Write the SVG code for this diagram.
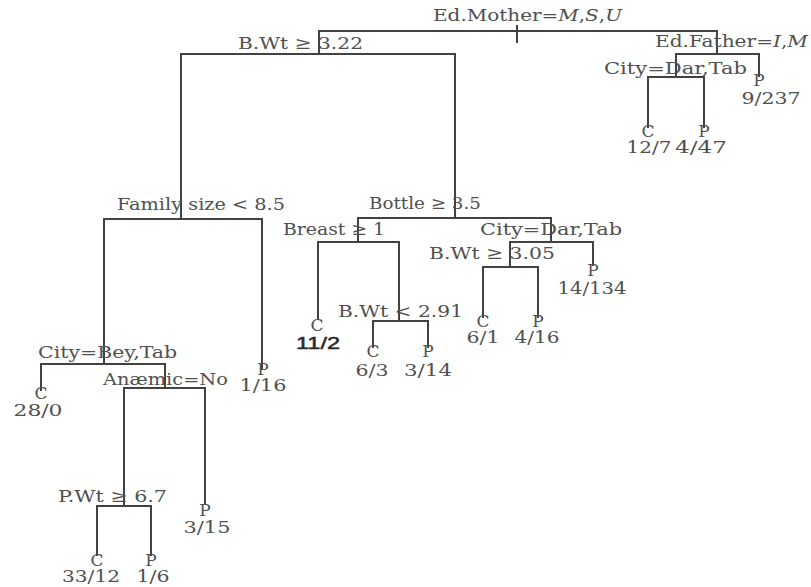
<svg xmlns="http://www.w3.org/2000/svg" width="811" height="587" viewBox="0 0 811 587">
<style>
.e{fill:none;stroke:#424242;stroke-width:2;stroke-linecap:square}
text{font-family:"DejaVu Serif","Liberation Serif",serif;font-size:17px;fill:#505050}
.m{text-anchor:middle}
.s{font-family:"Liberation Sans",Arial,sans-serif;fill:#2a2a2a;stroke:#2a2a2a;stroke-width:0.5}
.i{font-style:italic}
</style>
<rect width="811" height="587" fill="#ffffff"/>
<g id="connectors" class="e">
<path d="M319 31H717M517 26V42"/>
<path d="M319 31V54M181 54H455"/>
<path d="M717 31V54M676 54H759M759 54V76"/>
<path d="M676 54V77M648 77H704M648 77V127M704 77V127"/>
<path d="M181 54V219M104 219H262M262 219V368"/>
<path d="M455 54V218M358 218H551"/>
<path d="M104 219V364M41 364H165M41 364V390"/>
<path d="M358 218V242M318 242H399M318 242V318"/>
<path d="M399 242V321M373 321H428M373 321V347M428 321V347"/>
<path d="M551 218V242M510 242H593M593 242V265"/>
<path d="M510 242V267M483 267H538M483 267V317M538 267V317"/>
<path d="M165 364V388M124 388H205M205 388V503"/>
<path d="M124 388V506M97 506H151M97 506V555M151 506V555"/>
</g>
<g id="n-edmother"><text x="433" y="21" textLength="189" lengthAdjust="spacingAndGlyphs">Ed.Mother=<tspan class="i">M</tspan>,<tspan class="i">S</tspan>,<tspan class="i">U</tspan></text></g>
<g id="n-bwt322"><text x="238" y="49" textLength="125" lengthAdjust="spacingAndGlyphs">B.Wt ≥ 3.22</text></g>
<g id="n-edfather"><text x="655" y="47" textLength="153" lengthAdjust="spacingAndGlyphs">Ed.Father=<tspan class="i">I</tspan>,<tspan class="i">M</tspan></text></g>
<g id="n-city1"><text x="604" y="74" textLength="143" lengthAdjust="spacingAndGlyphs">City=Dar,Tab</text></g>
<g id="l-9-237"><text class="m" x="759" y="86">P</text><text class="m" x="771" y="104" textLength="59" lengthAdjust="spacingAndGlyphs">9/237</text></g>
<g id="l-12-7"><text class="m" x="648" y="137">C</text><text class="m" x="649" y="153" textLength="45" lengthAdjust="spacingAndGlyphs">12/7</text></g>
<g id="l-4-47"><text class="m" x="704" y="137">P</text><text class="m" x="701" y="153" textLength="52" lengthAdjust="spacingAndGlyphs">4/47</text></g>
<g id="n-family"><text x="117" y="210" textLength="168" lengthAdjust="spacingAndGlyphs">Family size &lt; 8.5</text></g>
<g id="n-bottle"><text x="369" y="209" textLength="112" lengthAdjust="spacingAndGlyphs">Bottle ≥ 3.5</text></g>
<g id="n-breast"><text x="283" y="235" textLength="102" lengthAdjust="spacingAndGlyphs">Breast ≥ 1</text></g>
<g id="n-city2"><text x="480" y="235" textLength="142" lengthAdjust="spacingAndGlyphs">City=Dar,Tab</text></g>
<g id="n-bwt305"><text x="429" y="259" textLength="126" lengthAdjust="spacingAndGlyphs">B.Wt ≥ 3.05</text></g>
<g id="l-14-134"><text class="m" x="593" y="276">P</text><text class="m" x="592" y="294" textLength="69" lengthAdjust="spacingAndGlyphs">14/134</text></g>
<g id="l-6-1"><text class="m" x="483" y="327">C</text><text class="m" x="483" y="343" textLength="33" lengthAdjust="spacingAndGlyphs">6/1</text></g>
<g id="l-4-16"><text class="m" x="538" y="327">P</text><text class="m" x="537" y="343" textLength="45" lengthAdjust="spacingAndGlyphs">4/16</text></g>
<g id="n-bwt291"><text x="338" y="317" textLength="125" lengthAdjust="spacingAndGlyphs">B.Wt &lt; 2.91</text></g>
<g id="l-11-2"><text class="m" x="317" y="331">C</text><text class="m s" x="318" y="349" textLength="44" lengthAdjust="spacingAndGlyphs">11/2</text></g>
<g id="l-6-3"><text class="m" x="373" y="357">C</text><text class="m" x="372" y="376" textLength="33" lengthAdjust="spacingAndGlyphs">6/3</text></g>
<g id="l-3-14"><text class="m" x="428" y="357">P</text><text class="m" x="428" y="376" textLength="48" lengthAdjust="spacingAndGlyphs">3/14</text></g>
<g id="n-city3"><text x="38" y="358" textLength="139" lengthAdjust="spacingAndGlyphs">City=Bey,Tab</text></g>
<g id="l-1-16"><text class="m" x="263" y="375">P</text><text class="m" x="263" y="391" textLength="47" lengthAdjust="spacingAndGlyphs">1/16</text></g>
<g id="l-28-0"><text class="m" x="41" y="399">C</text><text class="m" x="38" y="416" textLength="49" lengthAdjust="spacingAndGlyphs">28/0</text></g>
<g id="n-anaemic"><text x="103" y="385" textLength="125" lengthAdjust="spacingAndGlyphs">Anæmic=No</text></g>
<g id="l-3-15"><text class="m" x="205" y="516">P</text><text class="m" x="207" y="533" textLength="47" lengthAdjust="spacingAndGlyphs">3/15</text></g>
<g id="n-pwt"><text x="58" y="502" textLength="109" lengthAdjust="spacingAndGlyphs">P.Wt ≥ 6.7</text></g>
<g id="l-33-12"><text class="m" x="97" y="566">C</text><text class="m" x="91" y="582" textLength="58" lengthAdjust="spacingAndGlyphs">33/12</text></g>
<g id="l-1-6"><text class="m" x="151" y="566">P</text><text class="m" x="153" y="582" textLength="33" lengthAdjust="spacingAndGlyphs">1/6</text></g>
</svg>
